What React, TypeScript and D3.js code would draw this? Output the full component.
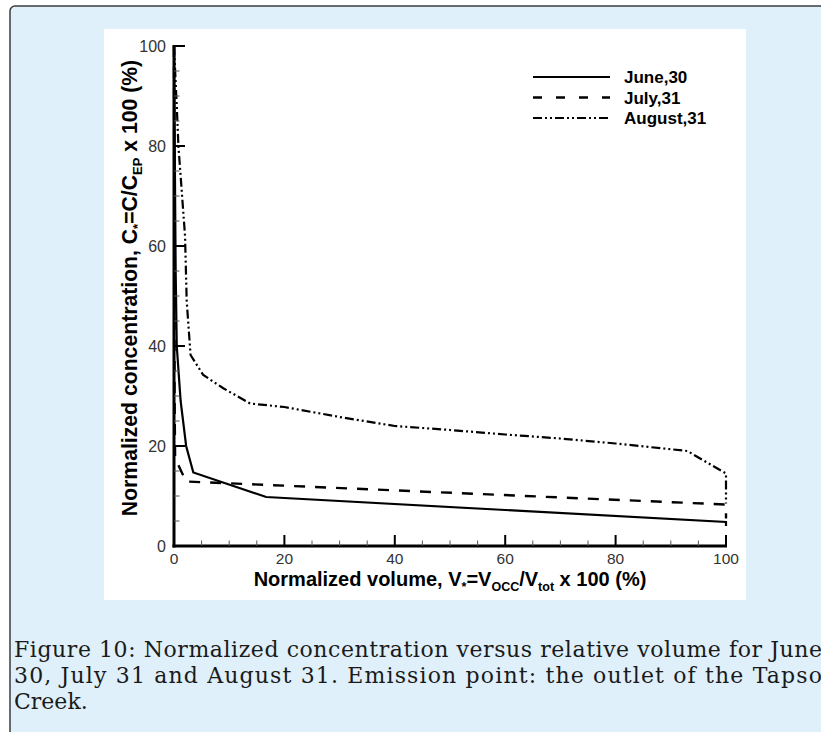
import React from "react";
import * as d3 from "d3";

const juneX = [0, 0.3, 0.5, 1.2, 2.2, 3.5, 16.7, 100, 100];
const juneY = [100, 55, 40, 29, 20, 14.7, 9.8, 4.8, 4];
const julyX = [0, 0.1, 0.2, 1.2, 2.2, 100, 100];
const julyY = [100, 30, 17.6, 15.2, 12.9, 8.3, 5.5];
const augX = [0, 0.5, 0.8, 2.0, 2.3, 3.0, 5.3, 9, 13.8, 20, 30, 40, 50, 60, 70, 80, 93, 100, 100];
const augY = [100, 88, 80, 62, 49, 38.2, 34.2, 31.5, 28.5, 27.8, 25.8, 24, 23.2, 22.3, 21.5, 20.5, 19, 14.5, 8.5];

const seriesNames = ["June,30", "July,31", "August,31"];
const majorTicks = [0, 20, 40, 60, 80, 100];
const minorTicks = d3.range(0, 101, 5).filter((v) => v % 20 !== 0);

const captionLines = [
  "Figure 10: Normalized concentration versus relative volume for June",
  "30, July 31 and August 31. Emission point: the outlet of the Tapso",
  "Creek.",
];

export default function App() {
  const x = d3.scaleLinear().domain([0, 100]).range([174, 726]);
  const y = d3.scaleLinear().domain([0, 100]).range([546, 46]);
  const mk = (xs: number[], ys: number[]) =>
    d3.line<number>().x((_, i) => x(xs[i])).y((_, i) => y(ys[i]))(xs.map((_, i) => i)) || "";

  const series = [
    { name: seriesNames[0], d: mk(juneX, juneY), dash: "none", w: 2.2 },
    { name: seriesNames[1], d: mk(julyX, julyY), dash: "11,10", w: 2.4 },
    { name: seriesNames[2], d: mk(augX, augY), dash: "9,3,2,3,2,3", w: 2.2 },
  ];

  const axisFont = "'Liberation Sans', Arial, Helvetica, sans-serif";
  const legendY = [77, 97.5, 118];

  return (
    <svg width={821} height={732} style={{ position: "absolute", left: 0, top: 0 }}>
      <rect x={0} y={0} width={821} height={732} fill="#ffffff" />
      <rect x={10} y={6} width={830} height={760} rx={5} ry={5} fill="#dff0fb" stroke="#3c3c3c" strokeWidth={1.5} />
      <rect x={104} y={29} width={642} height={571} fill="#ffffff" />

      {/* series */}
      {series.map((s) => (
        <path key={s.name} d={s.d} fill="none" stroke="#000" strokeWidth={s.w} strokeDasharray={s.dash} strokeLinejoin="miter" />
      ))}

      {/* axes */}
      <line x1={x(0)} x2={x(0)} y1={y(0) + 1.5} y2={y(100) - 1} stroke="#000" strokeWidth={3} />
      <line x1={x(0) - 1.5} x2={x(100) + 1} y1={y(0)} y2={y(0)} stroke="#000" strokeWidth={3} />
      {majorTicks.map((t) => (
        <g key={"my" + t}>
          <line x1={x(0)} x2={x(0) + 11} y1={y(t)} y2={y(t)} stroke="#000" strokeWidth={2} />
          <line x1={x(t)} x2={x(t)} y1={y(0)} y2={y(0) - 11} stroke="#000" strokeWidth={2} />
          <text x={166} y={y(t)} dy="0.36em" textAnchor="end" fontFamily={axisFont} fontSize={16} fill="#333">
            {t}
          </text>
          <text x={x(t)} y={563.5} textAnchor="middle" fontFamily={axisFont} fontSize={15.5} fill="#333">
            {t}
          </text>
        </g>
      ))}
      {minorTicks.map((t) => (
        <g key={"mn" + t}>
          <line x1={x(0)} x2={x(0) + 5.5} y1={y(t)} y2={y(t)} stroke="#555" strokeWidth={1} />
          <line x1={x(t)} x2={x(t)} y1={y(0)} y2={y(0) - 5.5} stroke="#555" strokeWidth={1} />
        </g>
      ))}

      {/* axis titles */}
      <text x={450} y={585.5} textAnchor="middle" fontFamily={axisFont} fontWeight="bold" fontSize={20} fill="#000">
        Normalized volume, V<tspan dy={5} fontSize={12.5}>*</tspan>
        <tspan dy={-5}>=V</tspan>
        <tspan dy={5} fontSize={12.5}>OCC</tspan>
        <tspan dy={-5}>/V</tspan>
        <tspan dy={5} fontSize={12.5}>tot</tspan>
        <tspan dy={-5}> x 100 (%)</tspan>
      </text>
      <text transform={`translate(137,288) rotate(-90)`} textAnchor="middle" fontFamily={axisFont} fontWeight="bold" fontSize={21.2} fill="#000">
        Normalized concentration, C<tspan dy={5} fontSize={13}>*</tspan>
        <tspan dy={-5}>=C/C</tspan>
        <tspan dy={5} fontSize={13}>EP</tspan>
        <tspan dy={-5}> x 100 (%)</tspan>
      </text>

      {/* legend */}
      {series.map((s, i) => (
        <g key={"lg" + s.name}>
          <line x1={533} x2={610} y1={legendY[i]} y2={legendY[i]} stroke="#000" strokeWidth={s.w} strokeDasharray={i === 1 ? "9,14" : s.dash} />
          <text x={624} y={legendY[i]} dy="0.36em" fontFamily={axisFont} fontWeight="bold" fontSize={17} fill="#000">
            {s.name}
          </text>
        </g>
      ))}

      {/* caption */}
      {captionLines.map((l, i) => (
        <text
          key={"cap" + i}
          x={14}
          y={657 + i * 26}
          fontFamily="'DejaVu Serif', 'Liberation Serif', serif"
          fontSize={22}
          fill="#1a1a1a"
          textLength={i < 2 ? 808 : undefined}
          lengthAdjust={i < 2 ? "spacing" : undefined}
        >
          {l}
        </text>
      ))}
    </svg>
  );
}
